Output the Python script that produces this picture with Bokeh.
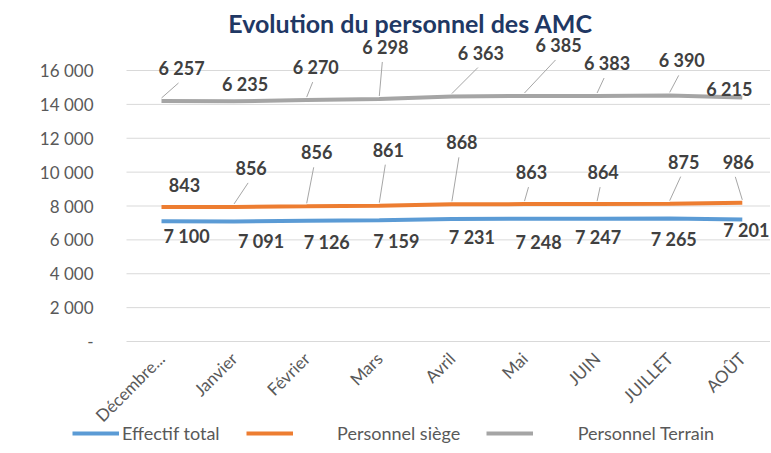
import math
import numpy as np
from bokeh.plotting import figure
from bokeh.models import ColumnDataSource, FixedTicker, Range1d, Label, Legend, LegendItem
from bokeh.core.properties import value
from bokeh.embed import file_html
from bokeh.resources import INLINE

# ---------------- data ----------------
months = ["Décembre...", "Janvier", "Février", "Mars", "Avril", "Mai", "JUIN", "JUILLET", "AOÛT"]
effectif_total = [7100, 7091, 7126, 7159, 7231, 7248, 7247, 7265, 7201]
personnel_siege = [843, 856, 856, 861, 868, 863, 864, 875, 986]
personnel_terrain = [6257, 6235, 6270, 6298, 6363, 6385, 6383, 6390, 6215]
y_ticks = [0, 2000, 4000, 6000, 8000, 10000, 12000, 14000, 16000]
y_tick_labels = ["-", "2 000", "4 000", "6 000", "8 000", "10 000", "12 000", "14 000", "16 000"]
series_names = ["Effectif total", "Personnel siège", "Personnel Terrain"]

# ---------------- layout (pixel offsets of data labels, screen y downwards) ----------------
total_lbl_off = [(25, 15), (27, 20), (20, 21), (17, 21), (20, 18), (14, 23), (1, 18), (4, 21), (4, 10)]
siege_lbl_off = [(23, -22), (17, -39), (10, -54), (9, -56), (10, -62), (7, -32), (6, -32), (14, -42), (-4, -41)]
siege_leader = [0, 1, 1, 1, 1, 1, 1, 1, 1]
terrain_lbl_off = [(20, -33), (11, -17), (9, -33), (6, -52), (29, -44), (34, -51), (10, -33), (12, -35), (-13, -9)]
terrain_leader = [1, 0, 1, 1, 1, 1, 1, 1, 0]

FIG_W, FIG_H = 770, 452
PX_PER_CAT = 72.6           # horizontal pixels per category
PX_PER_1000 = 16.9375       # vertical pixels per 1000 persons
FIRST_CAT_PX = 161          # pixel column of the first category
ZERO_PX = 341               # pixel row of the value 0
PLOT_LEFT_PX = 126          # where the plot area (grid) starts

X0 = -FIRST_CAT_PX / PX_PER_CAT
X1 = X0 + FIG_W / PX_PER_CAT
Y1 = ZERO_PX / PX_PER_1000 * 1000
Y0 = -(FIG_H - ZERO_PX) / PX_PER_1000 * 1000
XU = (X1 - X0) / FIG_W   # data units per pixel
YU = (Y1 - Y0) / FIG_H
XG = X0 + PLOT_LEFT_PX * XU

BLUE, ORANGE, GREY = "#5B9BD5", "#ED7D31", "#A5A5A5"
GRID = "#D9D9D9"
FONT = "Lato"

x = list(range(len(months)))
# stacked line chart (as in the Excel original): cumulative series
s1 = np.array(effectif_total, dtype=float)
s2 = s1 + np.array(personnel_siege)
s3 = s2 + np.array(personnel_terrain)

p = figure(width=FIG_W, height=FIG_H,
           x_range=Range1d(X0, X1), y_range=Range1d(Y0, Y1),
           output_backend="svg", toolbar_location=None,
           min_border_left=0, min_border_right=0, min_border_top=0, min_border_bottom=0)
p.outline_line_color = None
p.background_fill_color = "white"
p.border_fill_color = "white"

# horizontal grid lines restricted to the plot area
p.xgrid.grid_line_color = None
p.ygrid.grid_line_color = None
p.segment(x0=[XG] * len(y_ticks), x1=[X1] * len(y_ticks), y0=y_ticks, y1=y_ticks,
          line_color=GRID, line_width=1)

r1 = p.line(x, s1, line_color=BLUE, line_width=4)
r2 = p.line(x, s2, line_color=ORANGE, line_width=4)
r3 = p.line(x, s3, line_color=GREY, line_width=4)

def fmt(v):
    return f"{v:,}".replace(",", " ")

def add_labels(vals, ys, offs, leaders):
    src = ColumnDataSource(dict(
        x=x, y=list(ys), t=[fmt(v) for v in vals],
        dx=[o[0] for o in offs], dy=[o[1] for o in offs]))
    p.text(x="x", y="y", text="t", x_offset="dx", y_offset="dy", source=src,
           text_font=value(FONT), text_font_style="bold", text_font_size="18px",
           text_color="#404040", text_align="center", text_baseline="middle")
    if leaders is not None:
        x0s, y0s, x1s, y1s = [], [], [], []
        for i, (o, f) in enumerate(zip(offs, leaders)):
            if not f:
                continue
            x0s.append(i)
            y0s.append(ys[i] + 3 * YU)
            x1s.append(i + (o[0] - 3) * XU)
            y1s.append(ys[i] - (o[1] + 15) * YU)
        p.segment(x0s, y0s, x1s, y1s, line_color="#A6A6A6", line_width=1)

add_labels(effectif_total, s1, total_lbl_off, None)
add_labels(personnel_siege, s2, siege_lbl_off, siege_leader)
add_labels(personnel_terrain, s3, terrain_lbl_off, terrain_leader)

# axes (placed at fixed data locations inside the canvas)
p.xaxis.fixed_location = 0
p.xaxis.ticker = FixedTicker(ticks=x)
p.xaxis.major_label_overrides = {i: m for i, m in enumerate(months)}
p.xaxis.major_label_orientation = math.pi / 4
p.xaxis.major_tick_line_color = None
p.xaxis.minor_tick_line_color = None
p.xaxis.axis_line_color = None
p.xaxis.major_label_standoff = 8
p.xaxis.major_label_text_font = FONT
p.xaxis.major_label_text_font_size = "17px"
p.xaxis.major_label_text_color = "#595959"

p.yaxis.fixed_location = XG
p.yaxis.ticker = FixedTicker(ticks=y_ticks)
p.yaxis.major_label_overrides = {t: l for t, l in zip(y_ticks, y_tick_labels)}
p.yaxis.axis_line_color = None
p.yaxis.major_tick_line_color = None
p.yaxis.minor_tick_line_color = None
p.yaxis.major_label_standoff = 27
p.yaxis.major_label_text_font = FONT
p.yaxis.major_label_text_font_size = "17px"
p.yaxis.major_label_text_color = "#595959"

# title
p.add_layout(Label(x=X0 + 410 * XU, y=Y1 - 22 * YU, text="Evolution du personnel des AMC",
                   text_font=FONT, text_font_style="bold", text_font_size="25px",
                   text_color="#1F3864", text_align="center", text_baseline="alphabetic"))

# legend
pad = "\u00a0" * 9
leg = Legend(items=[LegendItem(label=series_names[0], renderers=[r1]),
                    LegendItem(label=pad + series_names[1], renderers=[r2]),
                    LegendItem(label=pad + series_names[2], renderers=[r3])],
             orientation="horizontal", location=(72, 8),
             border_line_color=None, background_fill_alpha=0, padding=0, margin=0, spacing=26,
             glyph_width=47, glyph_height=16, label_height=16, label_standoff=3,
             label_text_font=FONT, label_text_font_size="18px", label_text_color="#595959",
             label_text_baseline="middle")
p.add_layout(leg)

open("out.html", "w").write(file_html(p, INLINE))
